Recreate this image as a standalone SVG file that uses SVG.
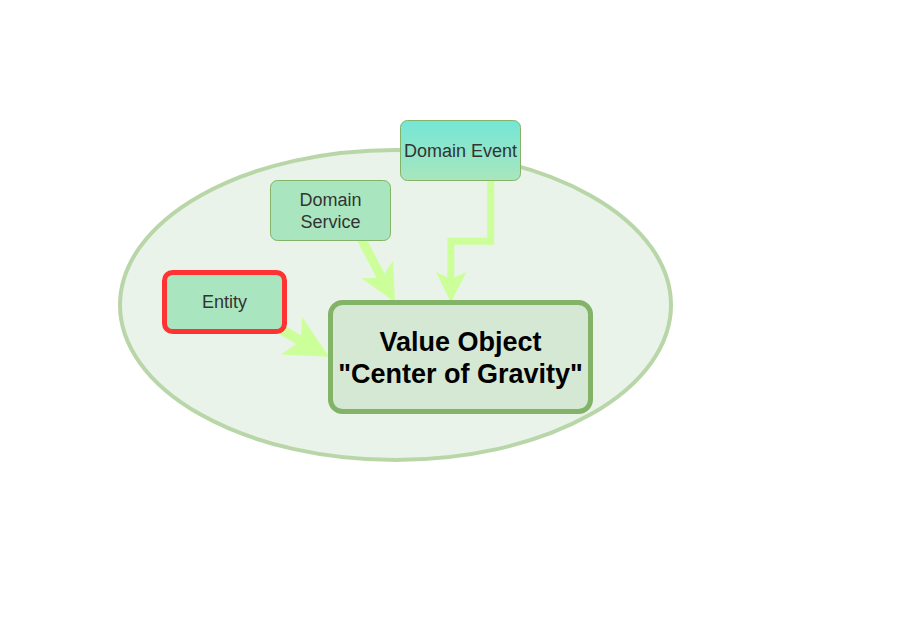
<svg xmlns="http://www.w3.org/2000/svg" width="911" height="621" viewBox="0 0 911 621">
<style>
.lbl{font-family:"Liberation Sans",Arial,sans-serif;font-size:18px;fill:#333333;text-anchor:middle}
.big{font-family:"Liberation Sans",Arial,sans-serif;font-size:27px;font-weight:bold;fill:#000000;text-anchor:middle}
.conn{fill:none;stroke:#ccff99;stroke-linejoin:miter}
.head{fill:#ccff99;stroke:none}
.node{fill:#a9e6bf;stroke:#82b366;stroke-width:1}
</style>
<defs>
<linearGradient id="evg" x1="0" y1="0" x2="0" y2="1">
<stop offset="0" stop-color="#74e6d7"/>
<stop offset="1" stop-color="#a9e6bd"/>
</linearGradient>
</defs>
<rect width="911" height="621" fill="#ffffff"/>
<g id="boundary">
<ellipse cx="395.5" cy="305" rx="275.5" ry="155" fill="#e9f3e9" stroke="#b9d6a9" stroke-width="4"/>
</g>
<g id="connectors">
<polyline class="conn" stroke-width="7" points="490.7,180 490.7,241.3 450.8,241.3 450.8,280"/>
<polygon class="head" points="450.8,302.5 436,272 450.8,279 466.5,272"/>
<line class="conn" stroke-width="9" x1="359" y1="234.5" x2="382" y2="278.3"/>
<polygon class="head" points="395,302 361.4,278.3 381.6,277.7 393,260.9"/>
<line class="conn" stroke-width="10" x1="274.4" y1="325.5" x2="301" y2="341"/>
<polygon class="head" points="329,356.7 302.2,317.3 300.8,340.8 281.2,354.5"/>
</g>
<g id="domain-event">
<rect x="400.5" y="120.5" width="120" height="60" rx="7" fill="url(#evg)" stroke="#82b366" stroke-width="1"/>
<text class="lbl" x="460.5" y="157">Domain Event</text>
</g>
<g id="domain-service">
<rect class="node" x="270.5" y="180.5" width="120" height="60" rx="7"/>
<text class="lbl" x="330.5" y="206">Domain</text>
<text class="lbl" x="330.5" y="228">Service</text>
</g>
<g id="entity">
<rect x="164.5" y="272.5" width="120" height="59" rx="8" fill="#a9e6bf" stroke="#ff3333" stroke-width="5"/>
<text class="lbl" x="224.5" y="308">Entity</text>
</g>
<g id="value-object">
<rect x="330.5" y="302.5" width="260" height="109" rx="12" fill="#d5e8d4" stroke="#82b366" stroke-width="5"/>
<text class="big" x="460.5" y="351">Value Object</text>
<text class="big" x="460.5" y="383">"Center of Gravity"</text>
</g>
</svg>
